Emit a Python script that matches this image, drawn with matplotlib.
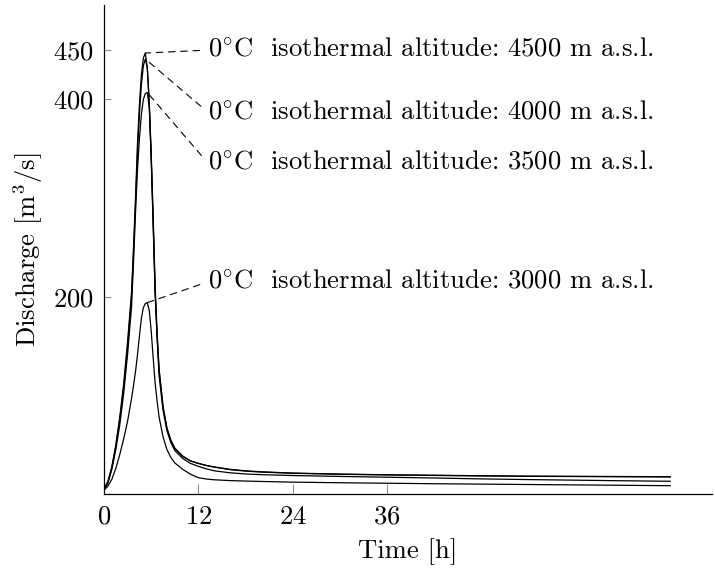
import numpy as np
import matplotlib
matplotlib.use("Agg")
import matplotlib.pyplot as plt

plt.rcParams['font.family'] = 'cmr10'
plt.rcParams['mathtext.fontset'] = 'cm'
plt.rcParams['axes.formatter.use_mathtext'] = True
plt.rcParams['axes.unicode_minus'] = False

# time [h]
t = [0, 0.5, 1, 1.5, 2, 2.5, 3, 3.5, 3.75, 4, 4.25, 4.5, 4.75, 5, 5.25, 5.5, 5.75, 6,
     6.25, 6.5, 6.75, 7, 7.5, 8, 8.5, 9, 10, 11, 12, 13, 14, 16, 18, 20,
     24, 30, 36, 42, 48, 54, 60, 66, 72]

# discharge [m3/s] per 0 degC isothermal altitude
q_4500 = [5, 13, 28, 50, 78, 112, 155, 205, 250, 300, 355, 395, 425, 442, 447, 432, 395, 340,
          275, 205, 160, 125, 88, 66, 54, 46, 38, 33.5, 31, 29, 27.5, 25, 23.5, 22.5,
          21.2, 20.2, 19.5, 19, 18.5, 18.1, 17.9, 17.7, 17.5]
q_4000 = [5, 12, 27, 48, 75, 108, 150, 200, 245, 293, 345, 385, 415, 434, 441, 432, 398, 345,
          280, 210, 163, 127, 89, 67, 54.5, 46.5, 38.5, 33.5, 31, 28.8, 27.2, 24.7, 23.2, 22.2,
          21, 20, 19.3, 18.8, 18.3, 17.9, 17.7, 17.5, 17.3]
q_3500 = [4, 11, 25, 45, 70, 102, 142, 190, 235, 285, 328, 360, 385, 400, 406, 407, 392, 340,
          272, 202, 158, 120, 85, 64, 52, 44, 36, 31, 28, 25.5, 23.5, 21.5, 20.3, 19.6,
          18.7, 17.8, 17, 16.2, 15.3, 14.6, 14, 13.4, 12.9]
q_3000 = [4, 8, 15, 26, 40, 56, 74, 97, 110, 124, 141, 160, 178, 189, 193, 194, 186, 165,
          138, 112, 94, 78, 58, 45, 37, 31.5, 25, 20, 16.5, 15.2, 14.4, 13.6, 13.1, 12.7,
          12, 11.4, 10.9, 10.4, 10, 9.6, 9.2, 8.8, 8.4]

series = [q_4500, q_4000, q_3500, q_3000]
labels = ["4500", "4000", "3500", "3000"]
label_y = [450, 387, 335.5, 215]

x_ticks = [0, 12, 24, 36]
y_ticks = [200, 400, 450]

fs = 19.2

fig = plt.figure(figsize=(7.15, 5.68), dpi=100)
ax = fig.add_axes([0.1455, 0.1303, 0.8503, 0.8609])

for q in series:
    ax.plot(t, q, color='black', lw=0.9)

for q, lab, ly in zip(series, labels, label_y):
    i = int(np.argmax(q))
    ax.annotate(r"$0^{\circ}$C  isothermal altitude: " + lab + " m a.s.l.",
                xy=(t[i], q[i]), xytext=(13.2, ly), fontsize=fs,
                va='center', ha='left',
                arrowprops=dict(arrowstyle='-', color='black', lw=0.8,
                                linestyle=(0, (6, 5)), relpos=(0, 0.5),
                                shrinkA=4, shrinkB=0))

ax.set_xlim(0, 77.3)
ax.set_ylim(0, 495.7)
ax.set_xticks(x_ticks)
ax.set_yticks(y_ticks)
ax.spines['top'].set_visible(False)
ax.spines['right'].set_visible(False)
ax.spines['left'].set_linewidth(0.9)
ax.spines['bottom'].set_linewidth(0.9)
ax.tick_params(axis='x', direction='in', length=7.5, width=0.6, color='0.45',
               labelsize=fs, pad=8)
ax.tick_params(axis='y', direction='in', length=5, width=0.6, color='0.45',
               labelsize=fs, pad=7)

ax.set_xlabel("Time [h]", fontsize=fs, labelpad=7)
ax.set_ylabel(r"Discharge [m$^3$/s]", fontsize=fs, labelpad=6)

fig.savefig("out.png", dpi=100)
